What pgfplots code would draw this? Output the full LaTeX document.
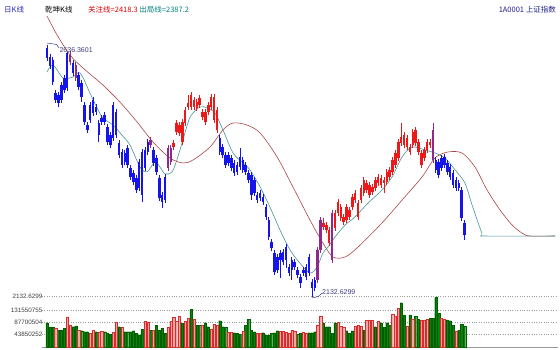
\documentclass[border=0pt]{standalone}
\usepackage{pgfplots}
\pgfplotsset{compat=1.18}
\usepackage{pgfplotstable}
\usepackage{fontspec}
\setmainfont{Liberation Sans}
\newfontfamily\cjk{Noto Sans CJK SC}
\definecolor{cblue}{RGB}{20,20,235}
\definecolor{cred}{RGB}{235,25,25}
\definecolor{cpur}{RGB}{145,40,140}
\definecolor{malong}{RGB}{172,70,70}
\definecolor{mashort}{RGB}{70,150,150}
\definecolor{vgreen}{RGB}{10,130,10}
\definecolor{vgreendk}{RGB}{0,95,0}
\definecolor{vpink}{RGB}{242,165,165}
\definecolor{vpinkdk}{RGB}{215,45,45}
\definecolor{lbl}{RGB}{60,60,130}
\pgfplotsset{
 grp/.style={restrict expr to domain={\thisrow{g}}{#1:#1}},
 wick/.style={mark=none, #1, line width=0.7pt, quiver={u=0, v=\thisrow{h}-\thisrow{l}}},
 body/.style={mark=none, #1, line width=2.5pt, quiver={u=0, v=\thisrow{c}-\thisrow{o}}},
}
% g: 0 = blue (below line), 1 = red (above line), 2 = purple (crossing)
\pgfplotstableread{
i o h l c g
0 2630 2636.36 2604 2610 0
1 2612 2618 2588 2594 0
2 2606 2612 2556 2562 0
3 2540 2546 2520 2526 0
4 2536 2542 2512 2520 0
5 2556 2562 2520 2526 0
6 2570 2576 2540 2546 0
7 2620 2622 2544 2550 0
8 2602 2624 2596 2616 2
9 2600 2606 2574 2580 0
10 2570 2602 2564 2596 2
11 2576 2582 2546 2552 0
12 2560 2566 2522 2532 0
13 2516 2522 2476 2482 0
14 2476 2482 2460 2466 0
15 2516 2522 2480 2486 0
16 2526 2532 2494 2500 0
17 2512 2518 2496 2502 0
18 2480 2486 2442 2456 0
19 2490 2496 2476 2482 0
20 2496 2502 2476 2482 0
21 2472 2478 2436 2442 0
22 2456 2462 2430 2436 0
23 2516 2522 2444 2450 0
24 2502 2508 2450 2456 0
25 2440 2446 2410 2416 0
26 2422 2428 2390 2396 0
27 2420 2426 2396 2402 0
28 2430 2436 2390 2396 0
29 2390 2396 2366 2372 0
30 2380 2386 2356 2362 0
31 2370 2376 2340 2346 0
32 2402 2408 2344 2350 0
33 2422 2428 2322 2336 0
34 2426 2432 2384 2390 0
35 2442 2448 2416 2422 0
36 2436 2452 2430 2446 2
37 2426 2432 2394 2400 0
38 2410 2416 2376 2382 0
39 2370 2376 2324 2330 0
40 2336 2342 2310 2322 0
41 2372 2378 2320 2326 0
42 2390 2436 2384 2430 2
43 2402 2436 2396 2430 2
44 2432 2446 2426 2440 1
45 2462 2486 2456 2480 1
46 2460 2482 2454 2476 1
47 2442 2488 2436 2482 1
48 2480 2512 2474 2506 1
49 2512 2536 2506 2520 1
50 2512 2542 2506 2536 1
51 2512 2532 2506 2526 1
52 2510 2528 2504 2522 1
53 2516 2536 2510 2530 1
54 2492 2508 2486 2502 1
55 2482 2508 2476 2502 1
56 2502 2522 2496 2516 1
57 2512 2538 2506 2532 1
58 2486 2538 2480 2532 1
59 2466 2512 2460 2506 1
60 2450 2456 2416 2422 0
61 2432 2438 2410 2416 0
62 2416 2422 2390 2396 0
63 2416 2422 2394 2400 0
64 2410 2416 2384 2390 0
65 2400 2406 2374 2380 0
66 2396 2402 2376 2382 0
67 2412 2430 2386 2392 0
68 2406 2412 2380 2386 0
69 2396 2402 2376 2382 0
70 2380 2386 2360 2366 0
71 2376 2382 2326 2336 0
72 2366 2372 2334 2340 0
73 2336 2342 2320 2326 0
74 2340 2346 2324 2330 0
75 2332 2338 2316 2322 0
76 2312 2318 2286 2292 0
77 2286 2292 2246 2252 0
78 2242 2248 2224 2230 0
79 2220 2226 2176 2182 0
80 2212 2218 2180 2186 0
81 2220 2226 2170 2206 0
82 2222 2228 2196 2202 0
83 2232 2238 2190 2206 0
84 2192 2198 2174 2180 0
85 2206 2212 2166 2186 0
86 2202 2208 2186 2192 0
87 2186 2192 2170 2176 0
88 2172 2178 2150 2160 0
89 2186 2192 2174 2180 0
90 2192 2198 2166 2172 0
91 2212 2218 2174 2180 0
92 2162 2168 2132.63 2150 0
93 2166 2172 2144 2150 0
94 2166 2232 2160 2226 2
95 2226 2292 2220 2286 2
96 2272 2290 2266 2280 1
97 2266 2282 2260 2276 1
98 2240 2272 2234 2266 1
99 2206 2306 2200 2300 2
100 2270 2306 2264 2300 1
101 2300 2328 2294 2322 1
102 2290 2318 2284 2312 1
103 2282 2298 2276 2292 1
104 2286 2318 2280 2312 1
105 2292 2312 2286 2306 1
106 2312 2338 2306 2332 1
107 2326 2346 2320 2340 1
108 2292 2326 2286 2320 1
109 2326 2356 2320 2350 1
110 2340 2372 2334 2366 1
111 2346 2366 2340 2360 1
112 2336 2362 2330 2356 1
113 2342 2358 2336 2352 1
114 2350 2372 2344 2366 1
115 2360 2378 2354 2372 1
116 2356 2376 2350 2370 1
117 2360 2372 2340 2366 1
118 2362 2388 2356 2382 1
119 2372 2392 2366 2386 1
120 2382 2412 2376 2406 1
121 2396 2426 2390 2420 1
122 2410 2448 2404 2442 1
123 2440 2480 2434 2452 1
124 2436 2462 2430 2456 1
125 2432 2456 2426 2450 1
126 2422 2438 2416 2432 1
127 2436 2468 2430 2462 1
128 2440 2472 2434 2466 1
129 2422 2448 2416 2442 1
130 2396 2426 2390 2420 1
131 2410 2432 2404 2426 1
132 2426 2448 2420 2442 1
133 2436 2448 2430 2442 1
134 2466 2480 2400 2406 2
135 2406 2412 2380 2386 0
136 2402 2408 2370 2376 0
137 2410 2416 2384 2390 0
138 2412 2418 2390 2396 0
139 2400 2406 2376 2382 0
140 2392 2398 2366 2372 0
141 2380 2386 2350 2356 0
142 2366 2372 2344 2350 0
143 2360 2366 2344 2350 0
144 2346 2352 2284 2290 0
145 2280 2286 2246 2256 0
}\candles
% g: 0 = green (down day), 1 = pink (up day); v in millions
\pgfplotstableread{
i v g
0 86.7 0
1 70.1 0
2 70.1 0
3 66.5 1
4 60.6 0
5 60.6 0
6 66.5 0
7 105.8 1
8 78.4 1
9 72.5 0
10 74.9 0
11 58.2 1
12 58.2 0
13 54.7 0
14 54.7 0
15 48.7 1
16 58.2 1
17 54.7 0
18 51.1 1
19 54.7 1
20 54.7 0
21 48.7 0
22 46.3 0
23 51.1 1
24 86.7 1
25 72.5 0
26 70.1 1
27 54.7 0
28 54.7 0
29 54.7 0
30 58.2 0
31 48.7 0
32 42.8 0
33 63.0 0
34 90.3 1
35 86.7 1
36 60.6 0
37 60.6 1
38 78.4 0
39 60.6 0
40 66.5 0
41 48.7 0
42 70.1 1
43 90.3 1
44 105.8 1
45 90.3 1
46 110.5 1
47 84.4 0
48 90.3 1
49 102.2 1
50 134.3 0
51 98.6 1
52 78.4 0
53 78.4 0
54 78.4 1
55 86.7 0
56 72.5 0
57 63.0 1
58 82.0 1
59 78.4 1
60 93.9 0
61 72.5 0
62 70.1 0
63 51.1 1
64 51.1 1
65 51.1 0
66 48.7 0
67 46.3 0
68 54.7 1
69 78.4 0
70 98.6 0
71 60.6 0
72 54.7 0
73 48.7 1
74 48.7 1
75 51.1 0
76 42.8 0
77 42.8 0
78 48.7 0
79 51.1 0
80 58.2 0
81 54.7 1
82 54.7 1
83 51.1 1
84 48.7 1
85 58.2 1
86 54.7 1
87 46.3 0
88 48.7 0
89 51.1 1
90 48.7 1
91 51.1 0
92 51.1 0
93 54.7 0
94 78.4 1
95 108.1 1
96 84.4 0
97 72.5 0
98 72.5 0
99 48.7 0
100 86.7 0
101 86.7 1
102 72.5 1
103 70.1 1
104 58.2 0
105 48.7 0
106 58.2 0
107 72.5 1
108 78.4 1
109 74.9 1
110 60.6 0
111 93.9 1
112 96.3 1
113 93.9 1
114 72.5 0
115 90.3 1
116 86.7 0
117 70.1 0
118 86.7 0
119 78.4 0
120 117.6 1
121 110.5 1
122 137.9 1
123 158.0 0
124 114.1 0
125 74.9 1
126 114.1 0
127 98.6 1
128 110.5 0
129 98.6 0
130 93.9 1
131 96.3 1
132 98.6 1
133 102.2 0
134 102.2 0
135 177.1 0
136 120.0 0
137 102.2 1
138 98.6 1
139 96.3 0
140 93.9 0
141 78.4 0
142 54.7 1
143 60.6 0
144 82.0 0
145 74.9 0
}\vols
\begin{document}
\begin{tikzpicture}[x=1pt,y=1pt]
\useasboundingbox (0,0) rectangle (560,349);
% volume panel
\begin{axis}[
  at={(42pt,2pt)}, anchor=south west, width=516pt, height=50pt, scale only axis,
  xmin=-1.736, xmax=177.43, ymin=0, ymax=178.25,
  axis line style={draw=none}, xtick=\empty, major tick length=0pt,
  ytick={43.850252,87.700504,131.550755},
  yticklabels={43850252,87700504,131550755},
  extra y ticks={0}, extra y tick labels={},
  extra y tick style={grid style={solid, gray!80, line width=0.6pt}},
  ymajorgrids, grid style={dotted, gray!75, line width=0.5pt},
  yticklabel style={font=\fontsize{6.3}{7}\selectfont, text=black!75, xshift=4pt},
  /pgf/number format/assume math mode=true,
  clip=false,
]
\addplot[ybar, bar width=2.2pt, bar shift=0pt, fill=vgreen, draw=vgreendk, line width=0.3pt, grp=0] table[x=i, y=v]{\vols};
\addplot[ybar, bar width=2.2pt, bar shift=0pt, fill=vpink, draw=vpinkdk, line width=0.4pt, grp=1] table[x=i, y=v]{\vols};
\end{axis}
% price panel
\begin{axis}[
  at={(42pt,49pt)}, anchor=south west, width=516pt, height=288pt, scale only axis,
  xmin=-1.736, xmax=177.43, ymin=2126, ymax=2702,
  axis line style={draw=none}, xtick=\empty, major tick length=0pt,
  ytick={2132.6299}, yticklabels={2132.6299},
  ymajorgrids, grid style={dotted, gray!75, line width=0.5pt},
  yticklabel style={font=\fontsize{6.3}{7}\selectfont, text=black!75, xshift=4pt},
  /pgf/number format/assume math mode=true,
  clip=false,
]
% long MA
\addplot[malong, line width=0.6pt, smooth] coordinates {
(0,2694) (3.5,2656) (8.0,2616) (12.5,2590) (19.4,2556) (25.3,2522) (31.3,2482)
(36.8,2442) (42.7,2410) (47.2,2400) (50.7,2406) (56.6,2432) (61.1,2466) (64.6,2480)
(69.4,2476) (74.0,2460) (79.9,2412) (85.4,2352) (91.3,2286) (95.8,2240) (99.3,2212)
(103.5,2212) (108.0,2232) (116.3,2280) (123.3,2326) (130.2,2372) (134.7,2410)
(139.2,2422) (144.1,2420) (148.6,2392) (152.8,2346) (157.3,2306) (161.5,2276)
(164.9,2260) (167.7,2254) (176.4,2254)};
% short MA
\addplot[mashort, line width=0.6pt, smooth] coordinates {
(0,2582) (2.1,2596) (5.6,2570) (9.0,2572) (11.5,2580) (14.9,2540) (17.4,2510)
(19.4,2490) (22.9,2476) (26.0,2456) (28.8,2436) (32.3,2392) (34.7,2382) (37.5,2402)
(39.2,2392) (41.0,2378) (43.4,2382) (45.2,2408) (47.2,2446) (49.7,2492) (53.1,2512)
(55.6,2510) (58.3,2500) (61.1,2466) (64.6,2420) (68.1,2400) (70.5,2386) (74.0,2352)
(77.4,2312) (80.9,2266) (84.4,2226) (87.8,2200) (91.3,2180) (93.8,2192) (95.8,2220)
(97.6,2232) (100,2252) (103.5,2276) (106.9,2292) (111.5,2320) (116.3,2346)
(119.8,2372) (123.3,2412) (126.7,2432) (131.3,2426) (134.7,2420) (138.2,2410)
(141.7,2386) (145.1,2360) (147.6,2316) (151.0,2260) (152.4,2254) (176.4,2254)};
% candles: wicks (low to high)
\addplot[grp=0, wick=cblue] table[x=i, y=l]{\candles};
\addplot[grp=1, wick=cred] table[x=i, y=l]{\candles};
\addplot[grp=2, wick=cpur] table[x=i, y=l]{\candles};
% candles: bodies (open to close)
\addplot[grp=0, body=cblue] table[x=i, y=o]{\candles};
\addplot[grp=1, body=cred] table[x=i, y=o]{\candles};
\addplot[grp=2, body=cpur] table[x=i, y=o]{\candles};
% annotations
\draw[lbl, line width=0.5pt] (axis cs:0,2640) -- (axis cs:3.3,2637) -- (axis cs:4.2,2630);
\node[anchor=west, inner sep=0pt, text=lbl, font=\fontsize{7}{8}\selectfont] at (axis cs:4.3,2626) {2636.3601};
\draw[lbl, line width=0.5pt] (axis cs:92,2130) -- (axis cs:94.2,2133) -- (axis cs:95.5,2140);
\node[anchor=west, inner sep=0pt, text=lbl, font=\fontsize{7}{8}\selectfont] at (axis cs:95.5,2142) {2132.6299};
\end{axis}
% header texts
\node[anchor=west, inner sep=0pt, text={rgb,255:red,40;green,40;blue,190}, font=\cjk\fontsize{7.5}{8}\selectfont] at (4,339) {日K线};
\node[anchor=west, inner sep=0pt, text=black, font=\cjk\fontsize{7.5}{8}\selectfont] at (45,339) {乾坤K线};
\node[anchor=west, inner sep=0pt, font=\cjk\fontsize{7.5}{8}\selectfont] at (88,339) {\textcolor{red!85!black}{关注线=2418.3}\ \textcolor{teal}{出局线=2387.2}};
\node[anchor=east, inner sep=0pt, text={rgb,255:red,30;green,30;blue,140}, font=\cjk\fontsize{7.5}{8}\selectfont] at (556,339) {1A0001 上证指数};
\end{tikzpicture}
\end{document}
